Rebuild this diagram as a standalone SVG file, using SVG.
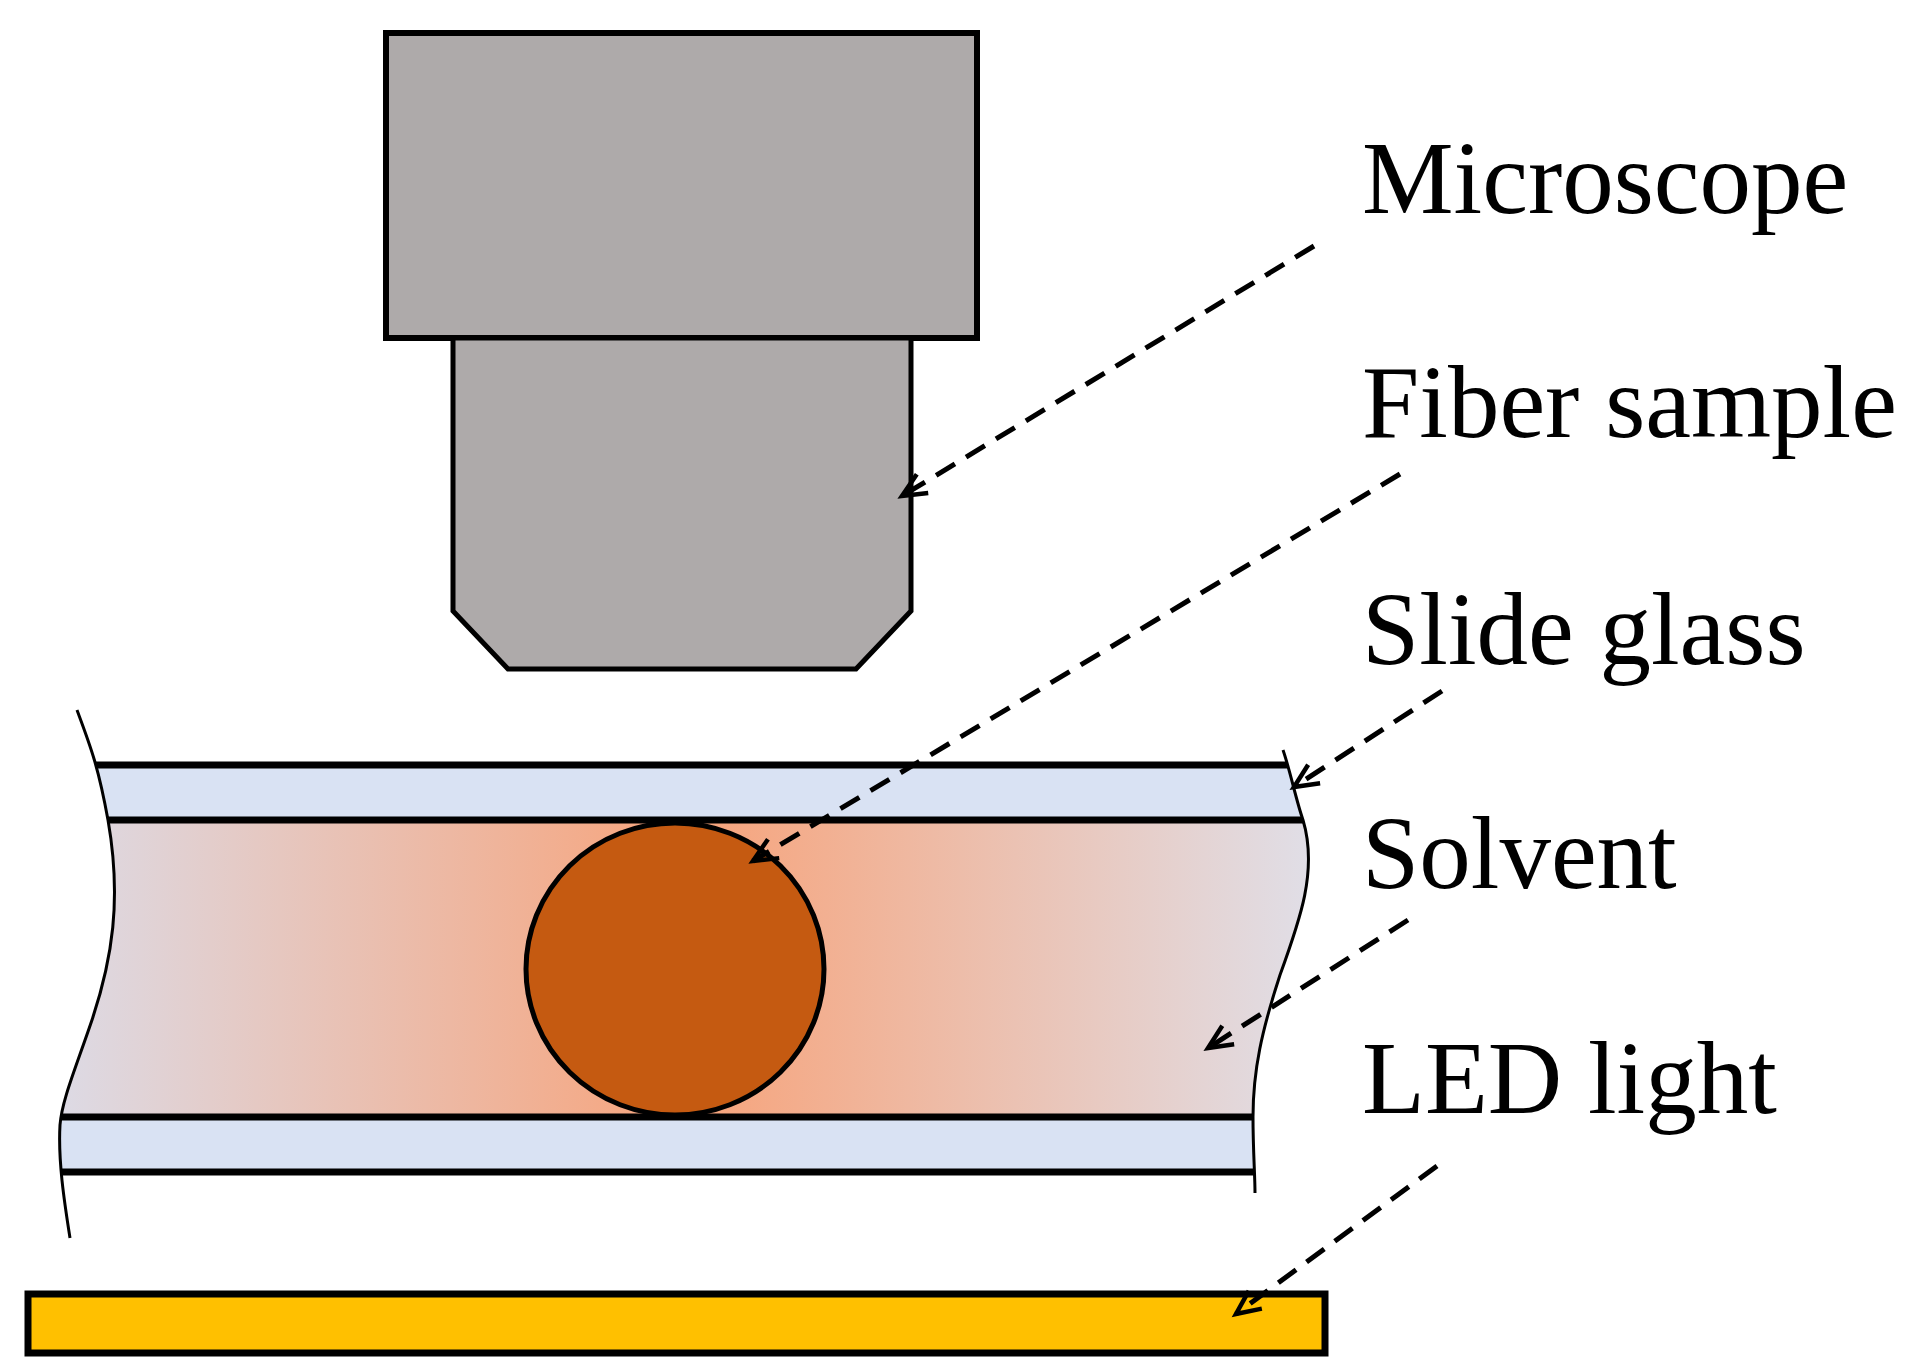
<svg xmlns="http://www.w3.org/2000/svg" width="1916" height="1367" viewBox="0 0 1916 1367">
<style>
.lbl{font-family:"Liberation Serif",serif;font-size:103px;fill:#000}
.ed{fill:none;stroke:#000;stroke-width:3}
.bl{stroke:#000;stroke-width:7}
.dash{fill:none;stroke:#000;stroke-width:5;stroke-dasharray:22 13}
</style>
<defs>
<linearGradient id="sg" x1="0" x2="1" y1="0" y2="0">
<stop offset="0" stop-color="#dcdce8"/><stop offset="0.5" stop-color="#f7a37a"/><stop offset="1" stop-color="#dfe1ec"/>
</linearGradient>
<clipPath id="cp"><path d="M77,710 C90,745 98,765 108,820 C122,900 112,960 92,1020 C75,1070 62,1100 60,1125 C58,1160 64,1200 70,1238 L1255,1238 L1255,1193 C1255,1175 1253,1150 1253,1117 C1253,1070 1262,1030 1280,975 C1300,920 1318,870 1303,820 C1296,800 1290,770 1283,750 Z"/></clipPath>
<marker id="ah" markerWidth="34" markerHeight="34" refX="28" refY="17" orient="auto" markerUnits="userSpaceOnUse"><path d="M4,6 L28,17 L4,28" fill="none" stroke="#000" stroke-width="4.5"/></marker>
</defs>
<g id="microscope">
<rect x="386" y="33" width="591" height="305" fill="#aeaaaa" stroke="#000" stroke-width="6"/>
<path d="M453,338 L911,338 L911,611 L856,669 L508,669 L453,611 Z" fill="#aeaaaa" stroke="#000" stroke-width="5"/>
</g>
<g id="slide" clip-path="url(#cp)">
<rect x="40" y="765" width="1300" height="55" fill="#d9e2f3"/>
<rect x="40" y="820" width="1300" height="297" fill="url(#sg)"/>
<rect x="40" y="1117" width="1300" height="55" fill="#d9e2f3"/>
<line class="bl" x1="40" y1="765" x2="1340" y2="765"/>
<line class="bl" x1="40" y1="820" x2="1340" y2="820"/>
<line class="bl" x1="40" y1="1117" x2="1340" y2="1117"/>
<line class="bl" x1="40" y1="1172" x2="1340" y2="1172"/>
</g>
<g id="fiber"><ellipse cx="675" cy="969" rx="149" ry="146" fill="#c55a11" stroke="#000" stroke-width="5"/></g>
<g id="edges">
<path class="ed" d="M77,710 C90,745 98,765 108,820 C122,900 112,960 92,1020 C75,1070 62,1100 60,1125 C58,1160 64,1200 70,1238"/>
<path class="ed" d="M1283,750 C1290,770 1296,800 1303,820 C1318,870 1300,920 1280,975 C1262,1030 1253,1070 1253,1117 C1253,1150 1255,1175 1255,1193"/>
</g>
<g id="led"><rect x="28" y="1294" width="1297" height="59" fill="#ffc000" stroke="#000" stroke-width="7"/></g>
<g id="connectors">
<line class="dash" x1="1314" y1="246" x2="902" y2="496" marker-end="url(#ah)"/>
<line class="dash" x1="1400" y1="474" x2="753" y2="861" marker-end="url(#ah)"/>
<line class="dash" x1="1442" y1="691" x2="1294" y2="787" marker-end="url(#ah)"/>
<line class="dash" x1="1408" y1="920" x2="1208" y2="1048" marker-end="url(#ah)"/>
<line class="dash" x1="1437" y1="1166" x2="1236" y2="1314" marker-end="url(#ah)"/>
</g>
<g id="labels">
<text class="lbl" x="1362" y="213">Microscope</text>
<text class="lbl" x="1362" y="437">Fiber sample</text>
<text class="lbl" x="1362" y="664">Slide glass</text>
<text class="lbl" x="1362" y="888">Solvent</text>
<text class="lbl" x="1362" y="1113">LED light</text>
</g>
</svg>
